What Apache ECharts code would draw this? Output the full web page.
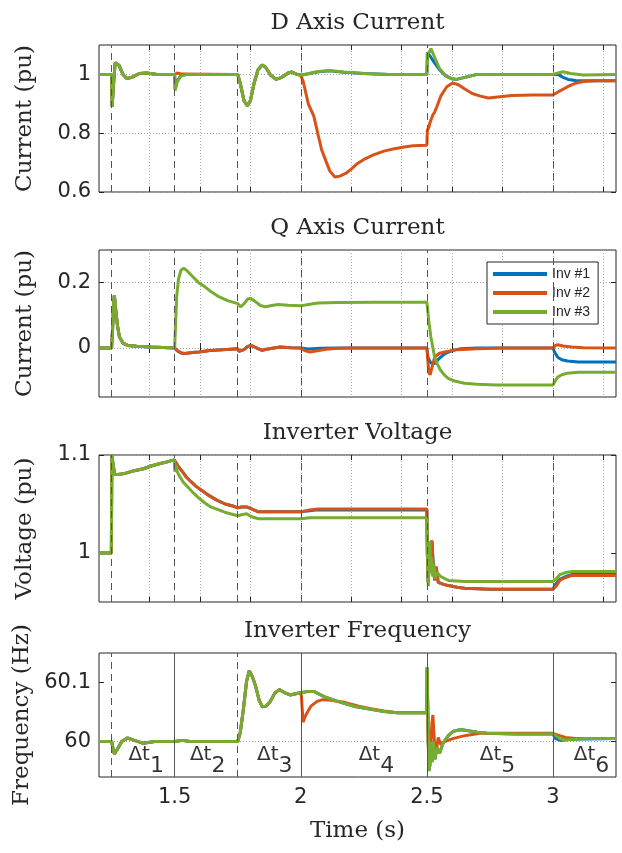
<!DOCTYPE html>
<html>
<head>
<meta charset="utf-8">
<script src="https://cdn.jsdelivr.net/npm/echarts@6/dist/echarts.min.js"></script>
<style>
  html, body { margin: 0; padding: 0; background: #fff; }
  #chart { width: 622px; height: 853px; }
</style>
</head>
<body>
<div id="chart"></div>
<script>
// ---- data ----
const seriesNames = ['Inv #1', 'Inv #2', 'Inv #3'];

// time ticks
const upperTimeTicks = [1.4, 1.6, 1.8, 2.0, 2.2, 2.4, 2.6, 2.8, 3.0, 3.2];
const timeTicks = [1.5, 2, 2.5, 3];
// event instants (dashed markers)
const eventTimes = [1.25, 1.5, 1.75, 2.0, 2.5, 3.0];
const freqDashed = [1.25, 1.75];
const freqSolid = [1.5, 2.0, 2.5, 3.0];

// y tick labels
const dTicks = [0.6, 0.8, 1];
const qTicks = [0, 0.2];
const vTicks = [1, 1.1];
const fTicks = [60, 60.1];

// interval annotations
const dtTimes = [1.387, 1.631, 1.897, 2.30, 2.78, 3.153];
const dtSubs = ['1', '2', '3', '4', '5', '6'];
const dtLevel = 59.968;

// D axis current
const dInv1 = [[1.2,1.0],[1.25,1.0],[1.252,0.89],[1.258,0.97],[1.264,1.04],[1.268,1.046],[1.28,1.03],[1.295,1.0],[1.31,0.986],[1.33,0.99],[1.36,1.003],[1.39,1.005],[1.43,1.0],[1.5,1.0],[1.502,0.95],[1.51,0.978],[1.525,0.996],[1.55,1.0],[1.75,1.0],[1.76,0.97],[1.775,0.91],[1.788,0.894],[1.8,0.91],[1.815,0.97],[1.83,1.015],[1.847,1.032],[1.86,1.025],[1.88,0.998],[1.902,0.983],[1.925,0.99],[1.95,1.005],[1.965,1.008],[1.985,1.0],[2.0,0.997],[2.03,1.002],[2.07,1.009],[2.115,1.012],[2.17,1.007],[2.25,1.003],[2.35,1.0],[2.5,1.0],[2.502,1.074],[2.51,1.066],[2.53,1.04],[2.55,1.016],[2.575,0.995],[2.6,0.985],[2.618,0.983],[2.65,0.99],[2.7,1.0],[3.0,1.0],[3.005,1.006],[3.02,1.0],[3.04,0.99],[3.06,0.983],[3.09,0.979],[3.13,0.978],[3.25,0.978]];
const dInv2 = [[1.2,1.0],[1.25,1.0],[1.252,0.89],[1.258,0.97],[1.264,1.04],[1.268,1.046],[1.28,1.03],[1.295,1.0],[1.31,0.986],[1.33,0.99],[1.36,1.003],[1.39,1.005],[1.43,1.0],[1.5,1.0],[1.51,1.005],[1.53,1.001],[1.75,1.0],[1.76,0.97],[1.775,0.91],[1.788,0.894],[1.8,0.91],[1.815,0.97],[1.83,1.015],[1.847,1.032],[1.86,1.025],[1.88,0.998],[1.902,0.983],[1.925,0.99],[1.95,1.005],[1.965,1.008],[1.985,1.0],[2.0,0.997],[2.01,0.975],[2.03,0.9],[2.052,0.857],[2.07,0.79],[2.083,0.743],[2.1,0.705],[2.115,0.672],[2.135,0.651],[2.155,0.654],[2.178,0.663],[2.2,0.678],[2.225,0.697],[2.255,0.713],[2.288,0.726],[2.33,0.739],[2.366,0.746],[2.41,0.753],[2.445,0.757],[2.5,0.759],[2.502,0.81],[2.508,0.82],[2.512,0.835],[2.516,0.83],[2.524,0.863],[2.53,0.87],[2.54,0.891],[2.555,0.926],[2.579,0.958],[2.602,0.971],[2.625,0.965],[2.649,0.951],[2.68,0.935],[2.712,0.926],[2.744,0.92],[2.79,0.924],[2.838,0.928],[2.92,0.93],[3.0,0.93],[3.03,0.945],[3.058,0.958],[3.09,0.97],[3.12,0.976],[3.17,0.978],[3.25,0.978]];
const dInv3 = [[1.2,1.0],[1.25,1.0],[1.252,0.89],[1.258,0.97],[1.264,1.04],[1.268,1.046],[1.28,1.03],[1.295,1.0],[1.31,0.986],[1.33,0.99],[1.36,1.003],[1.39,1.005],[1.43,1.0],[1.5,1.0],[1.502,0.945],[1.51,0.975],[1.525,0.995],[1.55,1.0],[1.75,1.0],[1.76,0.97],[1.775,0.91],[1.788,0.894],[1.8,0.91],[1.815,0.97],[1.83,1.015],[1.847,1.032],[1.86,1.025],[1.88,0.998],[1.902,0.983],[1.925,0.99],[1.95,1.005],[1.965,1.008],[1.985,1.0],[2.0,0.997],[2.03,1.002],[2.07,1.01],[2.115,1.013],[2.17,1.008],[2.25,1.003],[2.35,1.0],[2.5,1.0],[2.503,1.07],[2.512,1.08],[2.516,1.088],[2.53,1.06],[2.55,1.02],[2.575,0.995],[2.6,0.985],[2.618,0.983],[2.65,0.99],[2.7,1.0],[3.0,1.0],[3.02,1.005],[3.04,1.009],[3.07,1.003],[3.12,0.998],[3.25,1.0]];

// Q axis current
const qInv1 = [[1.2,0],[1.25,0],[1.254,0.06],[1.258,0.14],[1.261,0.162],[1.266,0.12],[1.273,0.07],[1.281,0.034],[1.295,0.015],[1.313,0.008],[1.35,0.005],[1.407,0.003],[1.5,0],[1.51,-0.008],[1.525,-0.015],[1.541,-0.017],[1.57,-0.014],[1.596,-0.012],[1.64,-0.008],[1.69,-0.005],[1.75,-0.002],[1.755,-0.01],[1.761,-0.015],[1.775,-0.005],[1.79,0.005],[1.803,0.008],[1.825,0.0],[1.847,-0.007],[1.87,-0.003],[1.918,0.003],[1.96,0.001],[2.0,0],[2.03,-0.003],[2.08,-0.001],[2.15,0],[2.5,0],[2.505,-0.03],[2.515,-0.045],[2.53,-0.048],[2.545,-0.035],[2.57,-0.018],[2.6,-0.008],[2.634,-0.002],[2.7,0],[3.0,0],[3.008,-0.015],[3.019,-0.028],[3.035,-0.036],[3.058,-0.04],[3.1,-0.043],[3.25,-0.043]];
const qInv2 = [[1.2,0],[1.25,0],[1.254,0.06],[1.258,0.14],[1.261,0.162],[1.266,0.12],[1.273,0.07],[1.281,0.034],[1.295,0.015],[1.313,0.008],[1.35,0.005],[1.407,0.003],[1.5,0],[1.51,-0.008],[1.525,-0.015],[1.541,-0.017],[1.57,-0.014],[1.596,-0.012],[1.64,-0.008],[1.69,-0.005],[1.75,-0.002],[1.755,-0.01],[1.761,-0.015],[1.775,-0.005],[1.79,0.005],[1.803,0.008],[1.825,0.0],[1.847,-0.007],[1.87,-0.003],[1.918,0.003],[1.96,0.001],[2.0,0],[2.015,-0.008],[2.036,-0.012],[2.06,-0.009],[2.1,-0.004],[2.15,-0.001],[2.2,0],[2.5,0],[2.504,-0.04],[2.508,-0.075],[2.513,-0.082],[2.52,-0.06],[2.531,-0.028],[2.55,-0.016],[2.571,-0.012],[2.62,-0.005],[2.7,-0.002],[2.8,0],[3.0,0],[3.01,0.008],[3.019,0.01],[3.04,0.006],[3.074,0.003],[3.12,0.001],[3.25,0]];
const qInv3 = [[1.2,0],[1.25,0],[1.254,0.06],[1.258,0.14],[1.261,0.162],[1.266,0.12],[1.273,0.07],[1.281,0.034],[1.295,0.015],[1.313,0.008],[1.35,0.005],[1.407,0.003],[1.5,0],[1.503,0.06],[1.508,0.157],[1.515,0.21],[1.525,0.238],[1.536,0.244],[1.55,0.236],[1.572,0.218],[1.595,0.2],[1.619,0.188],[1.645,0.172],[1.675,0.157],[1.71,0.145],[1.75,0.136],[1.761,0.126],[1.775,0.135],[1.79,0.15],[1.8,0.152],[1.815,0.145],[1.84,0.13],[1.86,0.126],[1.885,0.13],[1.91,0.133],[1.95,0.131],[2.0,0.129],[2.03,0.133],[2.068,0.138],[2.15,0.139],[2.3,0.14],[2.5,0.14],[2.503,0.12],[2.508,0.08],[2.516,0.034],[2.524,0.0],[2.531,-0.028],[2.542,-0.05],[2.555,-0.069],[2.57,-0.083],[2.586,-0.094],[2.61,-0.101],[2.649,-0.108],[2.7,-0.111],[2.775,-0.113],[3.0,-0.113],[3.01,-0.1],[3.019,-0.089],[3.035,-0.082],[3.058,-0.077],[3.1,-0.074],[3.25,-0.074]];

// inverter voltage
const vInv1 = [[1.2,1.0],[1.249,1.0],[1.251,1.1],[1.256,1.09],[1.262,1.08],[1.275,1.08],[1.3,1.081],[1.34,1.084],[1.376,1.086],[1.41,1.089],[1.439,1.091],[1.47,1.093],[1.498,1.095],[1.5,1.095],[1.515,1.088],[1.531,1.083],[1.548,1.077],[1.564,1.073],[1.585,1.068],[1.612,1.063],[1.64,1.058],[1.667,1.054],[1.7,1.05],[1.73,1.048],[1.75,1.046],[1.765,1.047],[1.785,1.047],[1.805,1.045],[1.832,1.042],[1.9,1.042],[2.0,1.042],[2.035,1.043],[2.068,1.044],[2.5,1.044],[2.502,1.0],[2.505,0.97],[2.51,0.99],[2.52,1.012],[2.526,0.985],[2.531,0.972],[2.537,0.986],[2.545,0.97],[2.555,0.969],[2.58,0.967],[2.62,0.965],[2.65,0.964],[2.75,0.963],[3.0,0.963],[3.01,0.968],[3.027,0.973],[3.05,0.976],[3.074,0.978],[3.25,0.978]];
const vInv2 = [[1.2,1.0],[1.249,1.0],[1.251,1.1],[1.256,1.09],[1.262,1.08],[1.275,1.08],[1.3,1.081],[1.34,1.084],[1.376,1.086],[1.41,1.089],[1.439,1.091],[1.47,1.093],[1.498,1.095],[1.5,1.095],[1.515,1.088],[1.531,1.083],[1.548,1.077],[1.564,1.073],[1.585,1.068],[1.612,1.063],[1.64,1.058],[1.667,1.054],[1.7,1.05],[1.73,1.048],[1.75,1.046],[1.765,1.047],[1.785,1.047],[1.805,1.045],[1.832,1.042],[1.9,1.042],[2.0,1.042],[2.035,1.044],[2.068,1.045],[2.5,1.045],[2.502,1.0],[2.505,0.97],[2.51,0.99],[2.52,1.013],[2.526,0.985],[2.531,0.972],[2.537,0.986],[2.545,0.97],[2.555,0.969],[2.58,0.967],[2.62,0.965],[2.65,0.964],[2.75,0.963],[3.0,0.963],[3.015,0.967],[3.027,0.972],[3.05,0.975],[3.074,0.977],[3.25,0.977]];
const vInv3 = [[1.2,1.0],[1.249,1.0],[1.251,1.1],[1.256,1.09],[1.262,1.08],[1.275,1.08],[1.3,1.081],[1.34,1.084],[1.376,1.086],[1.41,1.089],[1.439,1.091],[1.47,1.093],[1.498,1.095],[1.5,1.095],[1.501,1.083],[1.506,1.09],[1.51,1.083],[1.52,1.078],[1.535,1.072],[1.557,1.066],[1.575,1.061],[1.596,1.056],[1.62,1.051],[1.643,1.047],[1.675,1.044],[1.706,1.041],[1.75,1.038],[1.765,1.039],[1.785,1.04],[1.805,1.037],[1.832,1.035],[1.9,1.035],[2.0,1.035],[2.035,1.036],[2.07,1.036],[2.5,1.036],[2.502,1.0],[2.506,0.966],[2.509,1.0],[2.512,1.012],[2.515,0.98],[2.519,0.996],[2.523,0.976],[2.528,0.989],[2.533,0.974],[2.54,0.98],[2.555,0.976],[2.585,0.972],[2.65,0.971],[3.0,0.971],[3.015,0.974],[3.027,0.978],[3.05,0.98],[3.074,0.981],[3.25,0.981]];

// inverter frequency
const fInv1 = [[1.2,60],[1.25,60],[1.255,59.99],[1.261,59.979],[1.27,59.985],[1.29,60.0],[1.313,60.006],[1.34,60.002],[1.376,59.997],[1.42,60.0],[1.5,60.0],[1.531,60.002],[1.56,60.0],[1.75,60.0],[1.76,60.015],[1.772,60.053],[1.785,60.102],[1.796,60.12],[1.808,60.11],[1.821,60.094],[1.835,60.07],[1.847,60.059],[1.862,60.06],[1.879,60.068],[1.897,60.082],[1.915,60.088],[1.935,60.083],[1.958,60.079],[1.98,60.081],[2.005,60.083],[2.03,60.085],[2.052,60.085],[2.075,60.08],[2.099,60.075],[2.14,60.069],[2.178,60.064],[2.22,60.059],[2.272,60.055],[2.33,60.051],[2.382,60.049],[2.5,60.049],[2.501,60.126],[2.504,60.05],[2.508,59.95],[2.512,59.96],[2.516,60.0],[2.52,59.965],[2.526,60.0],[2.532,59.97],[2.54,59.99],[2.55,59.98],[2.565,59.998],[2.585,60.01],[2.603,60.017],[2.62,60.019],[2.639,60.02],[2.67,60.018],[2.7,60.016],[2.738,60.014],[2.85,60.013],[3.0,60.013],[3.01,60.005],[3.016,60.002],[3.03,60.002],[3.07,60.004],[3.25,60.005]];
const fInv2 = [[1.2,60],[1.25,60],[1.255,59.99],[1.261,59.979],[1.27,59.985],[1.29,60.0],[1.313,60.006],[1.34,60.002],[1.376,59.997],[1.42,60.0],[1.5,60.0],[1.531,60.002],[1.56,60.0],[1.75,60.0],[1.76,60.015],[1.772,60.053],[1.785,60.102],[1.796,60.12],[1.808,60.11],[1.821,60.094],[1.835,60.07],[1.847,60.059],[1.862,60.06],[1.879,60.068],[1.897,60.082],[1.915,60.088],[1.935,60.083],[1.958,60.079],[1.98,60.081],[2.0,60.083],[2.003,60.075],[2.009,60.033],[2.02,60.045],[2.04,60.06],[2.065,60.068],[2.087,60.071],[2.12,60.07],[2.178,60.066],[2.23,60.06],[2.272,60.056],[2.33,60.052],[2.382,60.049],[2.5,60.049],[2.501,60.122],[2.505,60.0],[2.51,59.953],[2.515,59.99],[2.52,60.03],[2.524,60.045],[2.53,60.0],[2.536,59.979],[2.545,60.007],[2.555,59.995],[2.57,60.0],[2.603,60.005],[2.65,60.01],[2.71,60.014],[2.85,60.014],[3.0,60.014],[3.02,60.011],[3.05,60.007],[3.1,60.005],[3.25,60.005]];
const fInv3 = [[1.2,60],[1.25,60],[1.255,59.99],[1.261,59.979],[1.27,59.985],[1.29,60.0],[1.313,60.006],[1.34,60.002],[1.376,59.997],[1.42,60.0],[1.5,60.0],[1.531,60.002],[1.56,60.0],[1.75,60.0],[1.76,60.015],[1.772,60.053],[1.785,60.102],[1.796,60.12],[1.808,60.11],[1.821,60.094],[1.835,60.07],[1.847,60.059],[1.862,60.06],[1.879,60.068],[1.897,60.082],[1.915,60.088],[1.935,60.083],[1.958,60.079],[1.98,60.081],[2.005,60.083],[2.03,60.085],[2.052,60.085],[2.075,60.08],[2.099,60.075],[2.14,60.069],[2.178,60.064],[2.22,60.059],[2.272,60.055],[2.33,60.051],[2.382,60.049],[2.5,60.049],[2.501,60.126],[2.504,60.05],[2.508,59.95],[2.512,59.96],[2.516,60.0],[2.52,59.965],[2.526,60.0],[2.532,59.97],[2.54,59.99],[2.55,59.98],[2.565,59.998],[2.585,60.01],[2.603,60.017],[2.62,60.019],[2.639,60.02],[2.67,60.018],[2.7,60.016],[2.738,60.014],[2.85,60.013],[3.0,60.013],[3.015,60.009],[3.027,60.005],[3.04,60.003],[3.07,60.003],[3.12,60.005],[3.25,60.005]];

// ---- styling / layout ----
const lineColors = ['#0072BD', '#D95319', '#77AC30'];
const ink = '#262626';
const dot = '#a8a8a8';
const serif = 'DejaVu Serif';
const sans = 'DejaVu Sans';

const panels = [
    {title: 'D Axis Current', ylabel: 'Current (pu)', min: 0.6, max: 1.1, step: 0.05, split: [dot], ticks: dTicks, data: [dInv1, dInv2, dInv3], top: 45, height: 147},
    {title: 'Q Axis Current', ylabel: 'Current (pu)', min: -0.15, max: 0.3, step: 0.05, split: [dot], ticks: qTicks, data: [qInv1, qInv2, qInv3], top: 250, height: 147},
    {title: 'Inverter Voltage', ylabel: 'Voltage (pu)', min: 0.95, max: 1.1, step: 0.01, split: ['rgba(0,0,0,0)', dot], ticks: vTicks, data: [vInv1, vInv2, vInv3], top: 455, height: 147},
    {title: 'Inverter Frequency', ylabel: 'Frequency (Hz)', min: 59.94, max: 60.15, step: 0.01, split: [dot, 'rgba(0,0,0,0)'], ticks: fTicks, data: [fInv1, fInv2, fInv3], top: 653, height: 124}
];

const grid = [], xAxis = [], yAxis = [], series = [];
const nameFont = {fontFamily: serif, fontSize: 23, color: ink};
const tickStyle = {inside: true, length: 5, lineStyle: {color: ink}};
const dotted = [1, 2];

panels.forEach(function (p, i) {
    const last = i === 3;
    const xt = last ? timeTicks : upperTimeTicks;
    grid.push({left: 99, right: 6, top: p.top, height: p.height, show: true,
        borderColor: ink, borderWidth: 1, backgroundColor: '#fff'});
    // bottom x axis, carries the dotted minor grid
    xAxis.push({type: 'value', gridIndex: i, min: 1.2, max: 3.25, interval: 0.05,
        name: last ? 'Time (s)' : '', nameLocation: 'middle', nameGap: 43, nameTextStyle: nameFont,
        axisLine: {show: false},
        axisTick: Object.assign({customValues: xt}, tickStyle),
        axisLabel: {show: last, customValues: xt, margin: 10, fontFamily: sans, fontSize: 21, color: ink},
        splitLine: {show: true, lineStyle: {color: dot, type: dotted, width: 1}}});
    yAxis.push({type: 'value', gridIndex: i, min: p.min, max: p.max, interval: p.step,
        name: p.ylabel, nameLocation: 'middle', nameGap: 62, nameTextStyle: nameFont,
        axisLine: {show: false},
        axisTick: Object.assign({customValues: p.ticks}, tickStyle),
        axisLabel: {customValues: p.ticks, margin: 8, fontFamily: sans, fontSize: 21, color: ink},
        splitLine: {show: true, lineStyle: {color: p.split, type: dotted, width: 1}}});
});

// mirrored box axes: top carries the panel title, right only ticks
panels.forEach(function (p, i) {
    const xt = i === 3 ? timeTicks : upperTimeTicks;
    xAxis.push({type: 'value', gridIndex: i, position: 'top', min: 1.2, max: 3.25,
        name: p.title, nameLocation: 'middle', nameGap: 10, nameTextStyle: nameFont,
        axisLine: {show: false}, axisLabel: {show: false}, splitLine: {show: false},
        axisTick: Object.assign({customValues: xt}, tickStyle)});
    yAxis.push({type: 'value', gridIndex: i, position: 'right', min: p.min, max: p.max,
        axisLine: {show: false}, axisLabel: {show: false}, splitLine: {show: false},
        axisTick: Object.assign({customValues: p.ticks}, tickStyle)});
});

panels.forEach(function (p, i) {
    let marks;
    if (i === 3) {
        marks = freqDashed.map(t => ({xAxis: t, lineStyle: {type: [7, 5], color: '#555', width: 1}}))
            .concat(freqSolid.map(t => ({xAxis: t, lineStyle: {type: 'solid', color: '#555', width: 1}})));
    } else {
        marks = eventTimes.map(t => ({xAxis: t, lineStyle: {type: [7, 5], color: '#555', width: 1}}));
    }
    p.data.forEach(function (d, k) {
        const s = {
            name: seriesNames[k], type: 'line', xAxisIndex: i, yAxisIndex: i,
            data: d, symbol: 'none', color: lineColors[k],
            lineStyle: {width: 3, color: lineColors[k]}, animation: false
        };
        if (k === 0) {
            s.markLine = {silent: true, symbol: 'none', label: {show: false}, animation: false, data: marks};
        }
        series.push(s);
    });
});

// Δt interval labels on the frequency panel
series.push({
    type: 'scatter', xAxisIndex: 3, yAxisIndex: 3, symbolSize: 0, silent: true, animation: false,
    data: dtTimes.map(t => [t, dtLevel]),
    label: {
        show: true, position: 'inside',
        formatter: function (prm) { return '{a|Δt}{b|' + dtSubs[prm.dataIndex] + '}'; },
        rich: {
            a: {fontFamily: sans, fontSize: 20, color: '#000', lineHeight: 22, padding: [0, 0, 12, 0]},
            b: {fontFamily: sans, fontSize: 22, color: '#000', lineHeight: 22, padding: [12, 0, 0, 0]}
        }
    }
});

const chart = echarts.init(document.getElementById('chart'), null, {renderer: 'canvas'});
chart.setOption({
    animation: false,
    backgroundColor: '#fff',
    grid: grid,
    xAxis: xAxis,
    yAxis: yAxis,
    legend: {
        data: seriesNames, orient: 'vertical', left: 487, top: 262,
        icon: 'rect', itemWidth: 54, itemHeight: 4, itemGap: 5,
        borderColor: ink, borderWidth: 1, backgroundColor: '#fff',
        padding: [5, 8, 5, 6], selectedMode: false,
        textStyle: {fontFamily: 'Liberation Sans', fontSize: 14, color: ink}
    },
    series: series
});
</script>
</body>
</html>
